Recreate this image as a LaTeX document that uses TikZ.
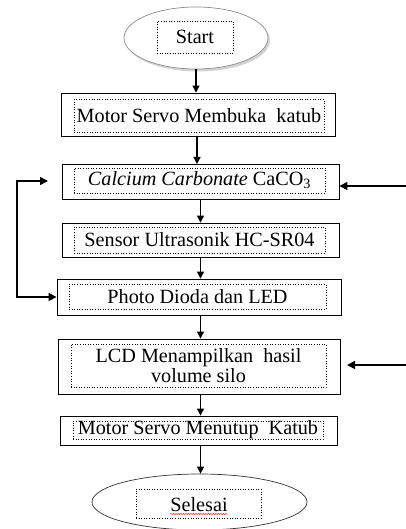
\documentclass[tikz,border=0pt]{standalone}
\usepackage{fontspec}
\setmainfont{Liberation Serif}
\usetikzlibrary{arrows.meta,shadows,decorations.pathmorphing,shapes.geometric,calc}
\begin{document}
\begin{tikzpicture}[x=1pt,y=-1pt,
  outerbox/.style={draw=black,line width=0.9pt,minimum width=#1,inner sep=0pt,fill=white},
  innerbox/.style={draw=black,dotted,line width=0.6pt,inner sep=0pt,align=center,font=\fontsize{20.2}{17.5}\selectfont},
  flow/.style={line width=1.1pt,-{Triangle[length=7pt,width=7pt]}},
  loop/.style={line width=1.6pt,-{Triangle[length=8pt,width=8pt]}},
  loopboth/.style={line width=1.6pt,{Triangle[length=8pt,width=8pt]}-{Triangle[length=8pt,width=8pt]}}
]
\useasboundingbox (0,0) rectangle (406,529);
% start
\node[ellipse,draw=black!45,line width=0.7pt,fill=white,minimum width=144pt,minimum height=62pt,inner sep=0pt,
  drop shadow={opacity=0.35,shadow xshift=2pt,shadow yshift=-2.5pt}] (start) at (196,38) {};
\node[innerbox,minimum width=76pt,minimum height=32pt] (starttxt) at (195,37) {Start};
% boxes
\node[outerbox=274pt,minimum height=43pt] (b1) at (198,114.5) {};
\node[innerbox,minimum width=250pt,minimum height=33pt] (b1t) at (199,115.5) {Motor Servo Membuka\ \ katub};
\node[outerbox=277pt,minimum height=35pt] (b2) at (200.5,181.5) {};
\node[innerbox,minimum width=251pt,minimum height=25pt] (b2t) at (199.5,180.5) {\textit{Calcium Carbonate} CaCO\textsubscript{3}};
\node[outerbox=277pt,minimum height=34pt] (b3) at (200.5,240) {};
\node[innerbox,minimum width=251pt,minimum height=26pt] (b3t) at (199.5,240) {Sensor Ultrasonik HC-SR04};
\node[outerbox=284pt,minimum height=36pt] (b4) at (199,297) {};
\node[innerbox,minimum width=257pt,minimum height=25pt] (b4t) at (197.5,296.5) {Photo Dioda dan LED};
\node[outerbox=282pt,minimum height=55pt] (b5) at (199,366.5) {};
\node[innerbox,minimum width=255pt,minimum height=43pt] (b5t) at (198.5,365.5) {LCD Menampilkan\ \ hasil\\volume silo};
\node[outerbox=277pt,minimum height=29pt] (b6) at (198.5,430.5) {};
\node[innerbox,minimum width=250pt,minimum height=18pt] (b6t) at (198,430) {Motor Servo Menutup\ \ Katub};
% end
\node[ellipse,draw=black!80,line width=0.7pt,fill=white,minimum width=215pt,minimum height=56pt,inner sep=0pt] (stop) at (199.5,502) {};
\node[innerbox,minimum width=125pt,minimum height=29pt,text depth=0pt] (stoptxt) at (198.5,503.5) {};
\node[font=\fontsize{20.2}{17.5}\selectfont,inner sep=0pt,anchor=base] (stopword) at (199,511) {Selesai};
\draw[red!80,line width=0.5pt,decorate,decoration={snake,amplitude=0.7pt,segment length=2.5pt}]
  ($(stopword.base west)+(0,3)$) -- ($(stopword.base east)+(0,3)$);
% flow arrows
\draw[flow] (start.south) -- (start.south |- b1.north);
\draw[flow] (197,136) -- (197,164);
\draw[flow] (b3.north |- b2.south) -- (b3.north);
\draw[flow] (b3.south) -- (b3.south |- b4.north);
\draw[flow] (b3.south |- b4.south) -- (b3.south |- b5.north);
\draw[flow] (b3.south |- b5.south) -- (b3.south |- b6.north);
\draw[flow] (b3.south |- b6.south) -- (b3.south |- stop.north);
% feedback left
\coordinate (lend) at (48,181);
\coordinate (lcorner) at (17,181);
\draw[loopboth,line join=miter] (lend) -- (lcorner) |- (b4.west);
% right inputs
\coordinate (r1) at (406,186);
\draw[loop] (r1) -- (b2.east |- r1);
\coordinate (r2) at (406,365);
\coordinate (r2e) at (347,365);
\draw[loop] (r2) -- (r2e);
\end{tikzpicture}
\end{document}
